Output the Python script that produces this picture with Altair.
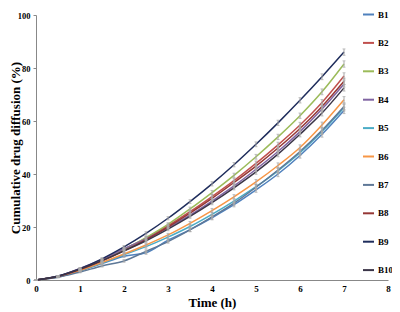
import altair as alt
import pandas as pd

time_h = [0, 0.5, 1, 1.5, 2, 2.5, 3, 3.5, 4, 4.5, 5, 5.5, 6, 6.5, 7]

B1 = [0, 1.1, 3.4, 6.2, 9.0, 10.3, 15.0, 19.0, 23.5, 28.4, 34.0, 40.0, 47.0, 55.0, 64.0]
B2 = [0, 1.4, 4.2, 7.6, 11.6, 15.8, 20.5, 25.8, 31.5, 37.5, 44.0, 51.0, 58.5, 67.0, 77.0]
B3 = [0, 1.3, 4.0, 7.4, 11.5, 16.0, 21.0, 26.8, 33.0, 39.5, 46.5, 54.0, 62.0, 71.0, 81.5]
B4 = [0, 1.5, 4.4, 7.8, 11.8, 15.5, 19.8, 24.5, 29.8, 35.5, 41.8, 48.5, 56.0, 64.5, 74.0]
B5 = [0, 1.2, 3.5, 6.4, 9.5, 12.6, 16.2, 20.2, 24.8, 29.8, 35.2, 41.2, 48.0, 56.0, 65.0]
B6 = [0, 1.2, 3.6, 6.6, 9.8, 13.2, 17.0, 21.4, 26.2, 31.4, 37.0, 43.2, 50.0, 58.5, 68.0]
B7 = [0, 1.0, 3.0, 5.3, 7.2, 10.8, 14.5, 18.9, 23.8, 29.0, 35.0, 41.5, 48.5, 56.5, 65.5]
B8 = [0, 1.3, 3.9, 7.2, 11.0, 15.2, 20.0, 25.2, 30.8, 36.8, 43.0, 49.8, 57.2, 65.5, 75.0]
B9 = [0, 1.5, 4.3, 8.0, 12.5, 17.6, 23.3, 29.6, 36.3, 43.5, 51.2, 59.3, 67.8, 76.7, 86.0]
B10 = [0, 1.4, 4.1, 7.3, 11.0, 14.8, 19.2, 24.0, 29.2, 34.8, 40.8, 47.5, 55.0, 63.0, 72.5]

err = [0, 0.2, 0.3, 0.4, 0.5, 0.6, 0.6, 0.7, 0.8, 0.8, 0.9, 1.0, 1.0, 1.1, 1.2]

series_names = ["B1", "B2", "B3", "B4", "B5", "B6", "B7", "B8", "B9", "B10"]
series_values = [B1, B2, B3, B4, B5, B6, B7, B8, B9, B10]
series_colors = ["#4F81BD", "#C0504D", "#9BBB59", "#8064A2", "#4BACC6",
                 "#F79646", "#5E7897", "#953735", "#1F2D5C", "#3B3548"]

rows = []
for name, vals in zip(series_names, series_values):
    for t, v, e in zip(time_h, vals, err):
        rows.append({"series": name, "time": t, "value": v,
                     "lo": v - e, "hi": v + e})
df = pd.DataFrame(rows)

FONT = "Liberation Serif"
YTITLE = "Cumulative drug diffusion (%)"

color = alt.Color(
    "series:N",
    scale=alt.Scale(domain=series_names, range=series_colors),
    sort=series_names,
    legend=alt.Legend(
        title=None, orient="none", legendX=326, legendY=-7,
        symbolType="stroke", symbolSize=121, symbolStrokeWidth=2,
        labelFont=FONT, labelFontWeight="bold", labelFontSize=9,
        labelColor="#000", labelOffset=3, rowPadding=16.4,
    ),
)

x = alt.X("time:Q", title="Time (h)",
          scale=alt.Scale(domain=[0, 8], nice=False),
          axis=alt.Axis(values=list(range(0, 9)), grid=False, tickSize=0,
                        labelFont=FONT, labelFontWeight="bold", labelFontSize=9,
                        labelColor="#000", labelPadding=4,
                        titleFont=FONT, titleFontWeight="bold", titleFontSize=13,
                        titleColor="#000", titleY=29, titleBaseline="bottom",
                        domainColor="#888", labelFlush=False))
y = alt.Y("value:Q", title=YTITLE,
          scale=alt.Scale(domain=[0, 100], nice=False),
          axis=alt.Axis(values=list(range(0, 101, 10)), grid=False, tickSize=3,
                        tickColor="#888", labelOverlap=False,
                        labelFont=FONT, labelFontWeight="bold", labelFontSize=8.5,
                        labelColor="#000", labelPadding=3,
                        titleFont=FONT, titleFontWeight="bold", titleFontSize=13,
                        titleColor="#000", titleX=-21, titleY=132.5,
                        titleBaseline="middle", titleAlign="center", titleAngle=270,
                        domainColor="#888"))

lines = alt.Chart(df).mark_line(interpolate="monotone", strokeWidth=1.5).encode(
    x=x, y=y, color=color, order="time:Q")

bars = alt.Chart(df).mark_errorbar(ticks=alt.TickConfig(size=3), color="#a8a8a8").encode(
    x=alt.X("time:Q", title="Time (h)"),
    y=alt.Y("lo:Q", title=YTITLE), y2="hi:Q")

chart = alt.layer(lines, bars).properties(
    width=352, height=265,
    autosize=alt.AutoSizeParams(type="none"),
    padding={"left": 28, "top": 7, "right": 4, "bottom": 30},
).configure_view(stroke=None)

chart.save("out.html", embed_options={"renderer": "svg", "actions": False})
